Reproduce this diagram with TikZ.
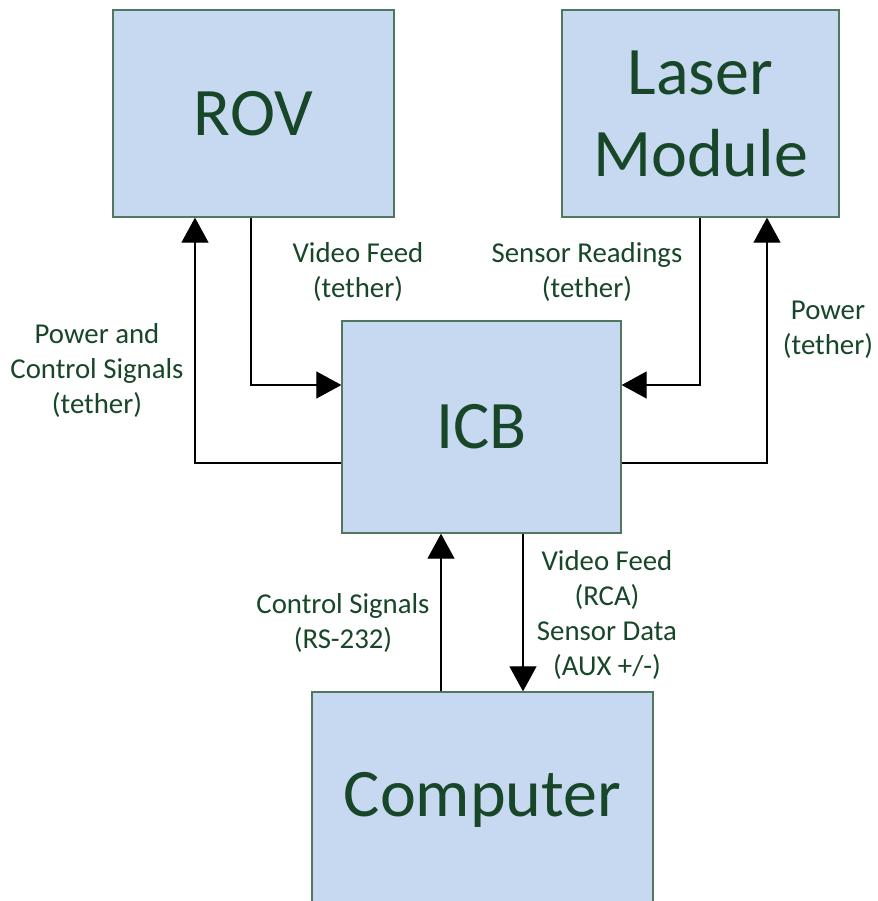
\documentclass[tikz,border=0pt]{standalone}
\usepackage{fontspec}
\setmainfont{Carlito}
\usetikzlibrary{arrows.meta,calc}
\definecolor{txtgreen}{RGB}{24,70,40}
\definecolor{boxfill}{RGB}{198,217,240}
\definecolor{boxline}{RGB}{80,120,95}
\tikzset{
  blockbox/.style={draw=boxline, fill=boxfill, line width=1.3pt, inner sep=0pt,
    text=txtgreen, align=center, font=\fontsize{68}{82}\selectfont},
  lbl/.style={text=txtgreen, align=center, inner sep=0pt, font=\fontsize{28.8}{35}\selectfont},
  arr/.style={draw=black, line width=1.1pt, -{Triangle[length=25pt,width=27pt]}}
}
\begin{document}
\begin{tikzpicture}[x=1pt,y=-1pt]
\clip (0,0) rectangle (877,901);
\fill[white] (0,0) rectangle (877,901);
\node[blockbox, minimum width=281pt, minimum height=207pt] (rov) at (253.5,113.5) {ROV};
\node[blockbox, minimum width=277pt, minimum height=207pt] (laser) at (700.5,113.5) {Laser\\Module};
\node[blockbox, minimum width=279pt, minimum height=212pt] (icb) at (481.5,427) {ICB};
\node[blockbox, minimum width=341pt, minimum height=216pt] (comp) at (482.5,800) {Computer};

\draw[arr] ([yshift=-36pt]icb.west) -| ([xshift=-58.5pt]rov.south);
\draw[arr] ([xshift=-2.5pt]rov.south) |- ([yshift=42pt]icb.west);
\draw[arr] ([xshift=-0.5pt]laser.south) |- ([yshift=42pt]icb.east);
\draw[arr] ([yshift=-36pt]icb.east) -| ([xshift=66.5pt]laser.south);
\draw[arr] ([xshift=-41.5pt]comp.north) -- ([xshift=-41.5pt]comp.north |- icb.south);
\draw[arr] ([xshift=41.5pt]icb.south) -- ([xshift=41.5pt]icb.south |- comp.north);

\node[lbl] (l1) at (97,370) {Power and\\Control Signals\\(tether)};
\node[lbl] (l2) at (358,272) {Video Feed\\(tether)};
\node[lbl] (l3) at (587,272) {Sensor Readings\\(tether)};
\node[lbl] (l4) at (828,330) {Power\\(tether)};
\node[lbl] (l5) at (343,623) {Control Signals\\(RS-232)};
\node[lbl] (l6) at (607,615) {Video Feed\\(RCA)\\Sensor Data\\(AUX +/-)};
\end{tikzpicture}
\end{document}
